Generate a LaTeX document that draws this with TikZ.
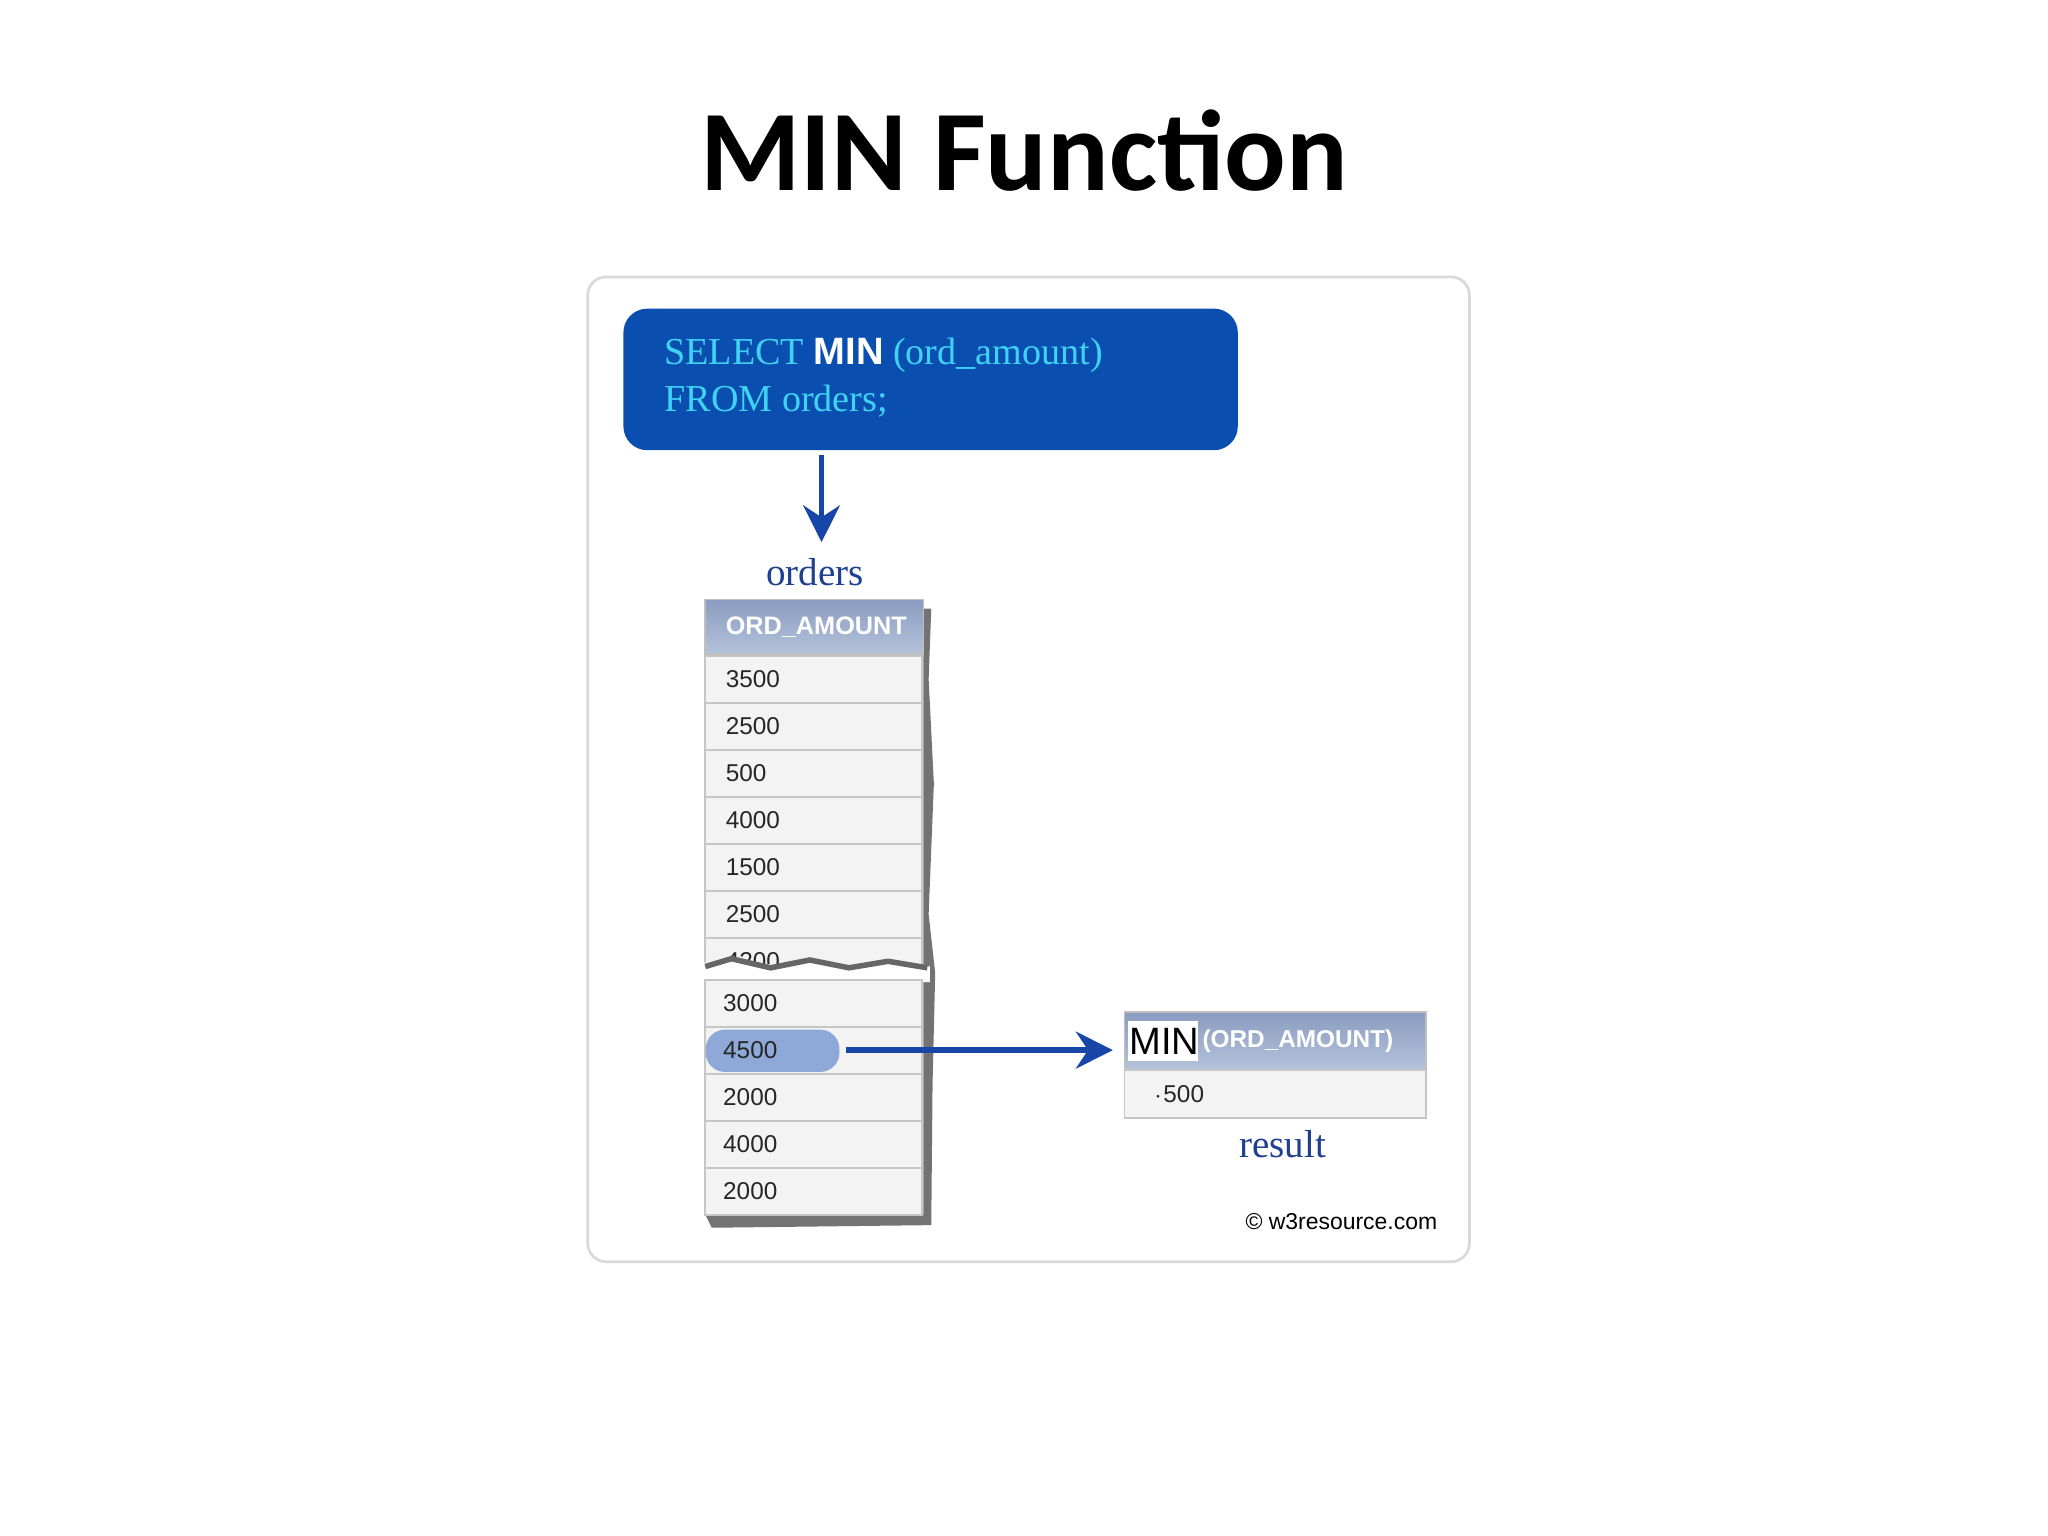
\documentclass[tikz,border=0pt]{standalone}
\usepackage{fontspec}
\setmainfont{Liberation Serif}
\setsansfont{Liberation Sans}
\newfontfamily\titlefont{Carlito}
\usetikzlibrary{arrows.meta}
\definecolor{qblue}{HTML}{0A4FB0}
\definecolor{qcyan}{HTML}{3FD2F5}
\definecolor{dblue}{HTML}{1F3F8F}
\definecolor{hdtop}{HTML}{8A9CC0}
\definecolor{hdbot}{HTML}{B5C2DA}
\definecolor{rowbg}{HTML}{F3F3F3}
\definecolor{hl}{HTML}{8EA8D8}
\definecolor{arr}{HTML}{1745A8}
\tikzset{
 cell/.style={draw=gray!45,fill=rowbg,line width=0.4pt},
 num/.style={font=\sffamily\fontsize{5.3}{6}\selectfont,anchor=west,inner sep=0,text=black!85},
 hdr/.style={top color=hdtop,bottom color=hdbot,draw=gray!50},
 lbl/.style={font=\fontsize{8.5}{10}\selectfont,text=dblue},
 flow/.style={-{Stealth[length=8pt,width=8pt]},arr,line width=1.4pt}
}
\begin{document}
\begin{tikzpicture}[x=0.01cm,y=-0.01cm]
\useasboundingbox (0,0) rectangle (1568,1176);
\node (title) at (784,115) {\titlefont\bfseries\fontsize{25}{28}\selectfont MIN Function};
\draw[gray!30,rounded corners=4pt,line width=0.6pt] (450,212) rectangle (1125,966);
% query box
\draw[fill=qblue,draw=qblue,rounded corners=5pt] (478,237) rectangle (947,344);
\node[anchor=west,inner sep=0,font=\fontsize{8.3}{10}\selectfont,text=qcyan] (q1) at (508,272) {SELECT \textcolor{white}{\sffamily\bfseries MIN} (ord\_amount)};
\node[anchor=west,inner sep=0,font=\fontsize{8.3}{10}\selectfont,text=qcyan] (q2) at (508,307) {FROM orders;};
\coordinate (qa) at (629,348);
\node[lbl] (orders) at (624,438) {orders};
\draw[flow,line width=1.1pt] (qa) -- (orders.north -| qa);
% table shadow
\fill[black!55] (707,466) -- (713,466) -- (711,520) -- (715,600) -- (711,700) -- (716,745) -- (714,830) -- (713,938) -- (545,940) -- (540,930) -- (707,930) -- cycle;
% header
\draw[hdr] (540,459) rectangle (707,501);
\node[font=\sffamily\bfseries\fontsize{5.5}{6}\selectfont,text=white,anchor=west,inner sep=0] (hdt) at (555,480) {ORD\_AMOUNT};
\foreach \v [count=\i] in {3500,2500,500,4000,1500,2500}{
  \draw[cell] (540,{466+36*\i}) rectangle (706,{502+36*\i});
  \node[num] (a\i) at (555,{484+36*\i}) {\v};
}
\draw[cell] (540,718) rectangle (706,745);
\begin{scope}
\clip (530,700) rectangle (720,738);
\node[num] (a7) at (555,736) {4200};
\end{scope}
% torn edge
\fill[white] (535,738) -- (560,733) -- (590,740) -- (620,734) -- (650,741) -- (680,735) -- (712,740) -- (712,752) -- (535,752) -- cycle;
\draw[black!60,line width=1.2pt] (540,740) -- (560,734) -- (590,741) -- (620,735) -- (650,741) -- (680,736) -- (710,741);
\foreach \v [count=\i] in {3000,4500,2000,4000,2000}{
  \draw[cell] (540,{714+36*\i}) rectangle (706,{750+36*\i});
  \node[num] (b\i) at (553,{732+36*\i}) {\v};
}
\draw[fill=hl,draw=hl,rounded corners=4pt] (541,789) rectangle (642,820);
\node[num] (hlt) at (553,804) {4500};
% result
\draw[hdr] (861,775) rectangle (1092,819);
\fill[white] (864,782) rectangle (917,812);
\node[anchor=west,inner sep=0,font=\sffamily\fontsize{8.3}{10}\selectfont] (rmin) at (864,797) {MIN};
\node[anchor=west,inner sep=0,font=\sffamily\bfseries\fontsize{5.3}{6}\selectfont,text=white] (rarg) at (920,797) {(ORD\_AMOUNT)};
\draw[cell] (861,819) rectangle (1092,856);
\node[num] (rv) at (882,838) {$\cdot$500};
\node[lbl] (res) at (982,876) {result};
\coordinate (as) at (648,804);
\coordinate (ae) at (852,804);
\draw[flow] (as) -- (ae);
\node[font=\sffamily\fontsize{5}{6}\selectfont] (copy) at (1027,935) {\textcopyright\ w3resource.com};
\end{tikzpicture}
\end{document}
